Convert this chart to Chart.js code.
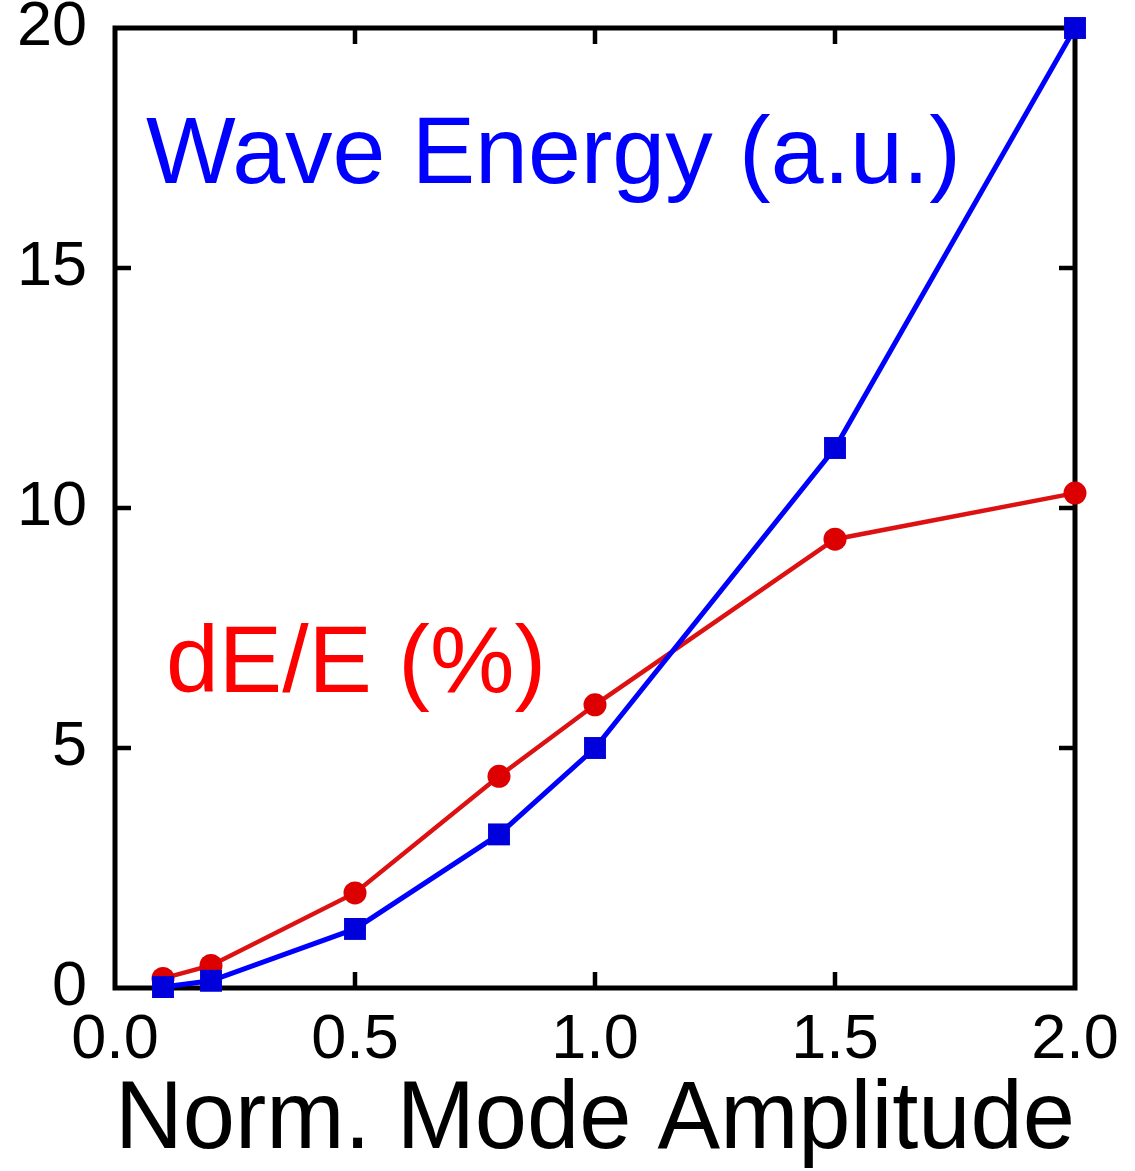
<!DOCTYPE html>
<html>
<head>
<meta charset="utf-8">
<script src="https://cdn.jsdelivr.net/npm/chart.js@4/dist/chart.umd.min.js"></script>
<style>
  html, body { margin: 0; padding: 0; background: #fff; }
  #wrap { width: 1135px; height: 1171px; }
</style>
</head>
<body>
<div id="wrap"><canvas id="chart"></canvas></div>
<script>
const amplitude = [0.1, 0.2, 0.5, 0.8, 1.0, 1.5, 2.0];
const waveEnergy = [0.02, 0.15, 1.23, 3.2, 5.0, 11.25, 20.0];
const dEoverE = [0.2, 0.47, 1.98, 4.41, 5.9, 9.35, 10.31];

const xTicks = [0, 0.5, 1.0, 1.5, 2.0];
const yTicks = [0, 5, 10, 15, 20];

const FONT = '"Liberation Sans", Arial, Helvetica, sans-serif';

function points(xs, ys) {
  return xs.map((x, i) => ({ x, y: ys[i] }));
}

// box with inward ticks on every side, plus the two in-plot labels
const framePlugin = {
  id: 'frame',
  beforeDatasetsDraw(chart) {
    const { ctx, chartArea: a } = chart;
    const xs = chart.scales.x;
    const ys = chart.scales.y;
    const tick = 16;
    ctx.save();
    ctx.strokeStyle = '#000';
    ctx.lineWidth = 5;
    ctx.strokeRect(a.left, a.top, a.right - a.left, a.bottom - a.top);
    ctx.lineWidth = 4.5;
    ctx.beginPath();
    xTicks.slice(1, -1).forEach(v => {
      const px = xs.getPixelForValue(v);
      ctx.moveTo(px, a.bottom); ctx.lineTo(px, a.bottom - tick);
      ctx.moveTo(px, a.top); ctx.lineTo(px, a.top + tick);
    });
    yTicks.slice(1, -1).forEach(v => {
      const py = ys.getPixelForValue(v);
      ctx.moveTo(a.left, py); ctx.lineTo(a.left + tick, py);
      ctx.moveTo(a.right, py); ctx.lineTo(a.right - tick, py);
    });
    ctx.stroke();

    ctx.textAlign = 'left';
    ctx.textBaseline = 'alphabetic';
    ctx.font = '95px ' + FONT;
    ctx.fillStyle = '#0000ff';
    ctx.fillText('Wave Energy (a.u.)', 146, 183);
    ctx.fillStyle = '#ff0000';
    ctx.fillText('dE/E (%)', 166, 692);
    ctx.restore();
  }
};

function noPad(s) {
  s.paddingTop = 0;
  s.paddingBottom = 0;
  s.paddingLeft = 0;
  s.paddingRight = 0;
}

new Chart(document.getElementById('chart'), {
  type: 'line',
  data: {
    datasets: [{
      label: 'Wave Energy (a.u.)',
      data: points(amplitude, waveEnergy),
      borderColor: '#0000ff',
      backgroundColor: '#0000dd',
      borderWidth: 5,
      pointStyle: 'rect',
      pointRadius: 15.5,
      pointBorderWidth: 0,
      pointBackgroundColor: '#0000dd',
      clip: false
    }, {
      label: 'dE/E (%)',
      data: points(amplitude, dEoverE),
      borderColor: '#dd1111',
      backgroundColor: '#dd0000',
      borderWidth: 4.5,
      pointStyle: 'circle',
      pointRadius: 11.5,
      pointBorderWidth: 0,
      pointBackgroundColor: '#dd0000',
      clip: false
    }]
  },
  options: {
    responsive: true,
    maintainAspectRatio: false,
    animation: false,
    events: [],
    layout: { autoPadding: false, padding: { top: 28, right: 60, left: 0, bottom: 0 } },
    plugins: { legend: { display: false }, tooltip: { enabled: false } },
    scales: {
      x: {
        type: 'linear',
        min: 0,
        max: 2,
        afterFit: (s) => { s.height = 183; noPad(s); },
        afterBuildTicks: (s) => { s.ticks = xTicks.map(v => ({ value: v })); },
        grid: { display: false, drawTicks: false },
        border: { display: false },
        ticks: {
          color: '#000',
          padding: 15,
          maxRotation: 0,
          font: { family: FONT, size: 63 },
          callback: (v) => v.toFixed(1)
        },
        title: {
          display: true,
          text: 'Norm. Mode Amplitude',
          color: '#000',
          font: { family: FONT, size: 97, lineHeight: 1 },
          padding: { top: 0, bottom: 1 }
        }
      },
      y: {
        type: 'linear',
        min: 0,
        max: 20,
        afterFit: (s) => { s.width = 115; noPad(s); },
        afterBuildTicks: (s) => { s.ticks = yTicks.map(v => ({ value: v })); },
        grid: { display: false, drawTicks: false },
        border: { display: false },
        ticks: {
          color: '#000',
          padding: 28,
          font: { family: FONT, size: 63 }
        }
      }
    }
  },
  plugins: [framePlugin]
});
</script>
</body>
</html>
